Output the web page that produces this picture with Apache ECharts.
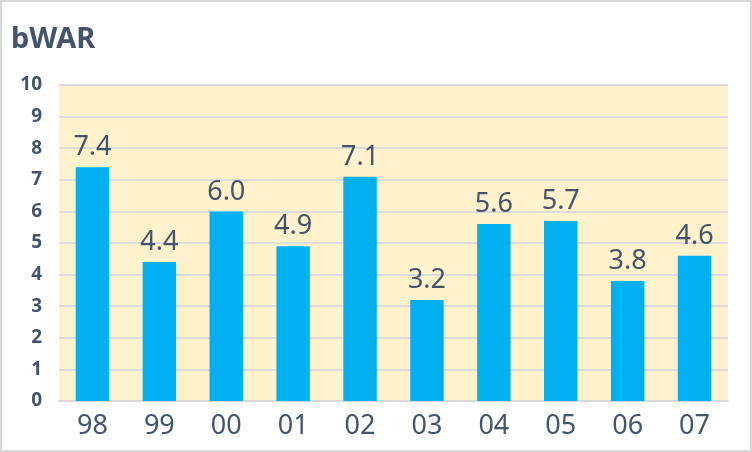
<!DOCTYPE html>
<html lang="ja">
<head>
    <meta charset="UTF-8">
    <title>bWAR</title>
    <script src="https://cdn.jsdelivr.net/npm/echarts@6.0.0/dist/echarts.min.js"></script>
    <style>
        html, body { margin: 0; padding: 0; background: #fff; }
        #chart {
            width: 748px;
            height: 448px;
            border: 2px solid #d9d9d9;
        }
    </style>
</head>
<body>
    <div id="chart"></div>
    <script>
        // データ
        const seasons = ['98', '99', '00', '01', '02', '03', '04', '05', '06', '07'];
        const bwar = [7.4, 4.4, 6.0, 4.9, 7.1, 3.2, 5.6, 5.7, 3.8, 4.6];
        const yTicks = [0, 10, 1];

        const chart = echarts.init(document.getElementById('chart'));
        chart.setOption({
            animation: false,
            textStyle: { fontFamily: 'Noto Sans, sans-serif' },
            title: {
                text: 'bWAR',
                left: 4,
                top: 18,
                textStyle: { fontSize: 29, fontWeight: 'bold', color: '#44546a' }
            },
            grid: {
                left: 57, right: 22, top: 83, bottom: 49,
                show: true,
                backgroundColor: '#fff2cc',
                borderWidth: 0
            },
            xAxis: {
                type: 'category',
                data: seasons,
                axisLine: { lineStyle: { color: '#d9d9d9', width: 2 } },
                axisTick: { show: false },
                axisLabel: { color: '#44546a', fontSize: 27, margin: 12 }
            },
            yAxis: {
                type: 'value',
                min: yTicks[0],
                max: yTicks[1],
                interval: yTicks[2],
                axisLine: { show: false },
                axisTick: { show: false },
                splitLine: { lineStyle: { color: '#dcdcdc', width: 2 } },
                axisLabel: { color: '#44546a', fontSize: 19, fontWeight: 'bold', margin: 17 }
            },
            series: [{
                type: 'bar',
                data: bwar,
                barWidth: '50%',
                itemStyle: { color: '#00b0f0' },
                label: {
                    show: true,
                    position: 'top',
                    distance: 6,
                    color: '#44546a',
                    fontSize: 27,
                    formatter: p => p.value.toFixed(1)
                }
            }]
        });
    </script>
</body>
</html>
